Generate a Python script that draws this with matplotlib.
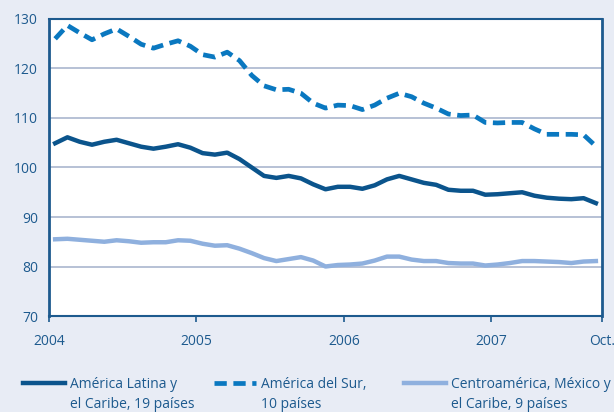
import numpy as np
import matplotlib.pyplot as plt

# monthly index values, Jan 2004 - Sep 2007
latam = [104.9, 106.1, 105.2, 104.6, 105.2, 105.6, 104.9, 104.2, 103.8, 104.2,
         104.7, 104.0, 102.9, 102.6, 103.0, 101.7, 100.0, 98.3, 97.9, 98.3,
         97.8, 96.6, 95.6, 96.1, 96.1, 95.7, 96.4, 97.6, 98.3, 97.6,
         96.9, 96.5, 95.5, 95.3, 95.3, 94.5, 94.6, 94.8, 95.0, 94.3,
         93.9, 93.7, 93.6, 93.8, 92.8]
sur = [126.0, 128.7, 127.2, 125.8, 127.0, 128.0, 126.5, 124.9, 124.1, 124.9,
       125.6, 124.5, 122.8, 122.3, 123.3, 121.6, 118.6, 116.5, 115.7, 115.8,
       115.0, 113.0, 112.0, 112.6, 112.5, 111.7, 112.6, 114.0, 115.0, 114.3,
       113.0, 112.0, 110.8, 110.5, 110.6, 109.1, 109.0, 109.1, 109.1, 107.8,
       106.7, 106.7, 106.7, 106.6, 104.3]
centro = [85.5, 85.6, 85.4, 85.2, 85.0, 85.3, 85.1, 84.8, 84.9, 84.9,
          85.3, 85.2, 84.6, 84.2, 84.3, 83.6, 82.7, 81.7, 81.1, 81.5,
          81.9, 81.2, 80.0, 80.3, 80.4, 80.6, 81.2, 82.0, 82.0, 81.4,
          81.1, 81.1, 80.7, 80.6, 80.6, 80.2, 80.4, 80.7, 81.1, 81.1,
          81.0, 80.9, 80.7, 81.0, 81.1]

label_top = ["América Latina y", "América del Sur,", "Centroamérica, México y"]
label_bottom = ["el Caribe, 19 países", "10 países", "el Caribe, 9 países"]
xtick_pos = [2004, 2005, 2006, 2007, 2007.75]
xtick_labels = ["2004", "2005", "2006", "2007", "Oct."]
yticks = [70, 80, 90, 100, 110, 120, 130]

bg = "#E8ECF5"
dark = "#1D5A8E"
plt.rcParams["font.family"] = ["Open Sans", "DejaVu Sans"]

x = 2004 + (np.arange(len(latam)) + 0.5) / 12

fig = plt.figure(figsize=(6.14, 4.12), dpi=100, facecolor=bg)
ax = fig.add_axes([0.0798, 0.233, 0.9007, 0.7209])
ax.set_facecolor("white")

l1, = ax.plot(x, latam, color="#0B548C", lw=3.2, zorder=3)
l2, = ax.plot(x, sur, color="#0A78C0", lw=3.4, dashes=(2.6, 1.4), zorder=3)
l3, = ax.plot(x, centro, color="#8FB0DE", lw=3.2, zorder=3)

ax.set_xlim(2004, 2007.75)
ax.set_ylim(70, 130)
ax.set_yticks(yticks)
ax.set_xticks(xtick_pos)
ax.set_xticklabels(xtick_labels)
for v in yticks[1:-1]:
    ax.axhline(v, color="#AAB6CE", lw=1.2, zorder=1)

for s in ax.spines.values():
    s.set_color(dark)
ax.spines["left"].set_linewidth(2)
ax.spines["right"].set_linewidth(2)
ax.spines["top"].set_linewidth(1.5)
ax.spines["bottom"].set_linewidth(1.5)

ax.tick_params(axis="y", length=0, pad=8, labelsize=10, labelcolor=dark)
ax.tick_params(axis="x", direction="out", length=4.3, width=1.2, color=dark,
               pad=9, labelsize=10, labelcolor=dark)

# legend: first line of each label in the legend, second line added below
leg = fig.legend([l1, l2, l3], label_top, loc="center left",
                 bbox_to_anchor=(23 / 614, 1 - 384 / 412), ncol=3,
                 frameon=False, fontsize=10, handlelength=3.0,
                 handletextpad=0.36, columnspacing=2.7, borderpad=0,
                 borderaxespad=0, labelcolor=dark)
fig.canvas.draw()
for t, extra in zip(leg.get_texts(), label_bottom):
    bb = t.get_window_extent()
    fig.text(bb.x0 / fig.bbox.width, (bb.y0 - 20) / fig.bbox.height, extra,
             fontsize=10, color=dark, ha="left", va="bottom")

fig.savefig("out.png", dpi=100, facecolor=bg)
